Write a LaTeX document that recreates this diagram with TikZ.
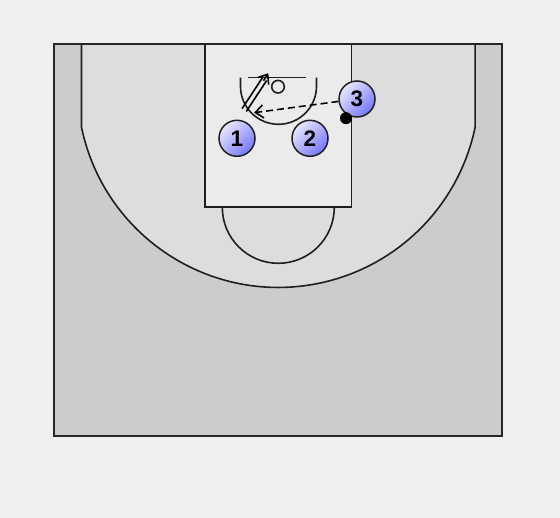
\documentclass[tikz,border=0pt]{standalone}
\usepackage{fontspec}
\setmainfont{Liberation Sans}
\usetikzlibrary{arrows.meta}
\definecolor{bgc}{HTML}{F0F0F0}
\definecolor{courtc}{HTML}{CCCCCC}
\definecolor{threec}{HTML}{DDDDDD}
\definecolor{lanec}{HTML}{EBEBEB}
\definecolor{plight}{HTML}{E8E8FF}
\definecolor{pdark}{HTML}{7676FF}
\tikzset{
  courtline/.style={draw=black!88, line width=1.6pt},
  player/.style={circle, draw=black!88, line width=1.5pt, minimum size=36pt, inner sep=0pt,
    top color=plight, bottom color=pdark, shading angle=45,
    font=\fontsize{22.5}{24}\selectfont\bfseries},
  ball/.style={circle, fill=black, minimum size=12pt, inner sep=0pt},
  pass/.style={line width=1.6pt, dash pattern=on 7pt off 4pt, -{Straight Barb[length=8pt,width=13pt,line width=1.6pt]}},
  moveline/.style={line width=1.6pt},
  movetip/.style={line width=1.6pt, -{Straight Barb[length=8pt,width=13pt,line width=1.6pt]}}
}
\begin{document}
\begin{tikzpicture}[x=1pt,y=1pt]
\useasboundingbox (0,0) rectangle (560,518);
\fill[bgc] (0,0) rectangle (560,518);
% court
\fill[courtc] (54,474) rectangle (502,82);
% three point region
\fill[threec] (81.5,474) -- (81.5,390.8) arc[start angle=191.7, end angle=348.3, radius=201] -- (475.1,474) -- cycle;
\draw[courtline] (81.5,474) -- (81.5,390.8) arc[start angle=191.7, end angle=348.3, radius=201] -- (475.1,474);
% lane
\fill[lanec] (205,474) rectangle (351.3,310.7);
\draw[courtline] (205,474) -- (205,310.7) -- (351.3,310.7) -- (351.3,474);
% free throw semicircle
\draw[courtline] (222.3,310.7) arc[start angle=180, end angle=360, radius=56];
% restricted area
\draw[courtline] (240.5,440.3) -- (240.5,431.7) arc[start angle=180, end angle=360, radius=38] -- (316.5,440.3);
% backboard and rim
\draw[courtline] (248.3,440.3) -- (306,440.3);
\draw[courtline] (278,431.3) circle[radius=6.3];
% outer border
\draw[draw=black!85, line width=2pt] (54,474) rectangle (502,82);
% players
\node[player] (p1) at (237,379.7) {1};
\node[player] (p2) at (310,379.7) {2};
\node[player] (p3) at (357,419) {3};
\node[ball] (ball) at (346,399.8) {};
% pass
\coordinate (passtip) at (254,405.3);
\draw[pass] (p3) -- (passtip);
% double-line move
\coordinate (m1a) at (242.1,409.4);
\coordinate (m1b) at (262.4,440.2);
\coordinate (m2a) at (246.3,406.6);
\coordinate (m2b) at (266.6,437.4);
\coordinate (mbase) at (263.5,437.3);
\coordinate (mtip) at (268.3,444.7);
\draw[moveline] (m1a) -- (m1b);
\draw[moveline] (m2a) -- (m2b);
\draw[movetip] (mbase) -- (mtip);
\end{tikzpicture}
\end{document}
